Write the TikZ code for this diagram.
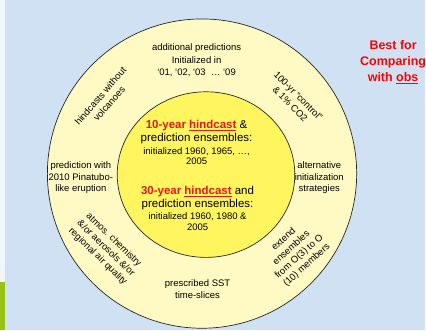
\documentclass[tikz,border=0pt]{standalone}
\usepackage{fontspec}
\setmainfont{Liberation Sans}
\usepackage{xcolor}
\usetikzlibrary{positioning}

\definecolor{bgblue}{RGB}{208,225,243}
\definecolor{ringyellow}{RGB}{255,250,196}
\definecolor{coreyellow}{RGB}{255,245,94}
\definecolor{hindred}{RGB}{232,24,24}
\definecolor{bestred}{RGB}{255,0,0}
\definecolor{bargreen}{RGB}{152,192,24}

\begin{document}
\begin{tikzpicture}
    [x=1pt,y=-1pt,
     ringtext/.style={font=\fontsize{9.5}{11.5}\selectfont,align=center,inner sep=0pt},
     corehead/.style={font=\fontsize{11.5}{13}\selectfont,align=center,inner sep=0pt},
     coredetail/.style={font=\fontsize{9.5}{10.5}\selectfont,align=center,inner sep=0pt}]

    \coordinate (O) at (202.5,174.0);
    \coordinate (I) at (206.5,175.0);

    \fill[bgblue] (0,0) rectangle (426,331);
    \fill[white!70!bgblue] (0,0) rectangle (5,283);
    \fill[bargreen] (0,283) rectangle (5,331);

    \draw[fill=ringyellow,line width=0.7pt,draw=black!85] (O) circle [radius=155pt];
    \draw[fill=coreyellow,line width=0.7pt,draw=black!85] (I) ellipse [x radius=89pt,y radius=83pt];

    % outer ring
    \node[ringtext,font=\fontsize{9.5}{12.5}\selectfont] (additional) at (197,60.5)
        {additional predictions\\Initialized in\\`01, `02, `03 ~… `09};
    \node[ringtext,rotate=49] (volcanoes) at (105,100) {hindcasts without\\volcanoes};
    \node[ringtext,rotate=-45] (control) at (295,100) {100-yr ``control''\\\& 1\% CO2};
    \node[ringtext] (pinatubo) at (81,178) {prediction with\\2010 Pinatubo-\\like eruption};
    \node[ringtext] (altinit) at (320,178) {alternative\\initialization\\strategies};
    \node[ringtext,rotate=-44] (chemistry) at (106,249) {atmos. chemistry\\\&/or aerosols \&/or\\regional air quality};
    \node[ringtext,rotate=42] (extend) at (296,253) {extend\\ensembles\\from O(3) to O\\(10) members};
    \node[ringtext] (sst) at (198,290) {prescribed SST\\time-slices};

    % core
    \node[corehead] (tenyear) at (197,132.5)
        {\textcolor{hindred}{\textbf{10-year \underline{hindcast}}} \&\\prediction ensembles:};
    \node[coredetail,below=3pt of tenyear] (tenyeardetail) {initialized 1960, 1965, …,\\2005};
    \node[corehead] (thirtyyear) at (198,198.5)
        {\textcolor{hindred}{\textbf{30-year \underline{hindcast}}} and\\prediction ensembles:};
    \node[coredetail,below=2.5pt of thirtyyear] (thirtyyeardetail) {initialized 1960, 1980 \&\\2005};

    \node[align=center,inner sep=0pt,anchor=north,text=bestred,
          font=\fontsize{12.5}{16}\selectfont\bfseries] (best) at (394,40.5)
        {Best for\\Comparing\\with \underline{obs}};
  \end{tikzpicture}
\end{document}
